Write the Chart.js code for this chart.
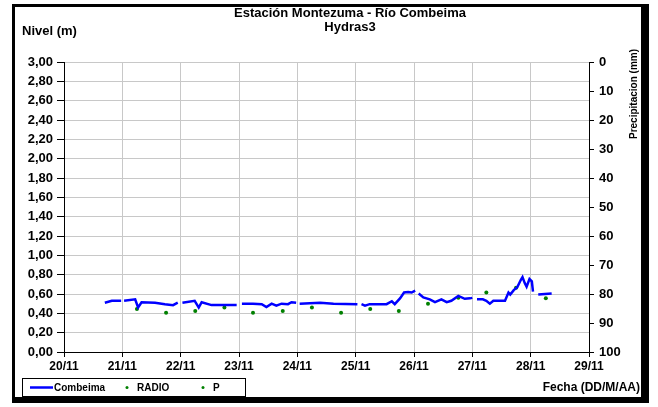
<!DOCTYPE html>
<html>
<head>
<meta charset="utf-8">
<script src="https://cdn.jsdelivr.net/npm/chart.js@4.4.1/dist/chart.umd.min.js"></script>
<style>
  html, body { margin: 0; padding: 0; background: #fff; }
  canvas { display: block; }
</style>
</head>
<body>
<canvas id="nivelChart" width="658" height="407"></canvas>
<script>
// Combeima: dias desde 20/11 (fraccion) y nivel (m); null = hueco en la serie
const combeimaDias = [
  20.70, 20.82, 20.98, 21.00,
  21.03, 21.22, 21.27, 21.33, 21.56, 21.73, 21.87, 21.95, 21.99,
  22.03, 22.24, 22.31, 22.36, 22.53, 22.72, 22.96, 23.00,
  23.05, 23.24, 23.39, 23.47, 23.56, 23.64, 23.73, 23.84, 23.90, 23.98, 24.01,
  24.04, 24.39, 24.62, 25.03, 25.06,
  25.10, 25.16, 25.24, 25.53, 25.62, 25.67, 25.76, 25.83, 25.90, 25.96, 26.02, 26.05,
  26.08, 26.16, 26.27, 26.36, 26.47, 26.56, 26.64, 26.76, 26.87, 26.96, 27.00, 27.04,
  27.08, 27.18, 27.24, 27.30, 27.36, 27.47, 27.56, 27.62, 27.65, 27.71, 27.77, 27.83,
  27.86, 27.90, 27.93, 27.98, 28.02, 28.04, 28.08,
  28.13, 28.36
];
const combeimaNivel = [
  0.51, 0.53, 0.53, null,
  0.53, 0.545, 0.46, 0.515, 0.51, 0.495, 0.485, 0.51, null,
  0.51, 0.53, 0.46, 0.515, 0.485, 0.485, 0.485, null,
  0.50, 0.50, 0.495, 0.465, 0.50, 0.48, 0.50, 0.495, 0.515, 0.51, null,
  0.50, 0.51, 0.50, 0.495, null,
  0.495, 0.48, 0.495, 0.495, 0.525, 0.495, 0.555, 0.615, 0.62, 0.615, 0.635, null,
  0.605, 0.565, 0.545, 0.515, 0.545, 0.515, 0.53, 0.58, 0.55, 0.555, 0.56, null,
  0.545, 0.545, 0.53, 0.50, 0.53, 0.53, 0.53, 0.615, 0.595, 0.64, 0.67, 0.745,
  0.775, 0.71, 0.675, 0.755, 0.73, 0.625, null,
  0.595, 0.605
];

// RADIO: lecturas puntuales (m)
const radioDias = [21.25, 21.75, 22.25, 22.75, 23.24, 23.75, 24.25, 24.75, 25.25, 25.74, 26.24, 26.76, 27.24, 27.75, 28.26];
const radioNivel = [0.445, 0.405, 0.425, 0.46, 0.405, 0.425, 0.46, 0.405, 0.445, 0.425, 0.50, 0.56, 0.615, 0.665, 0.555];

// P: precipitacion (mm), sin datos visibles
const pDias = [];
const pPrecip = [];

const fuente = 'Arial, "Liberation Sans", sans-serif';

function aPuntos(xs, ys) {
  return xs.map((x, i) => ({ x: x, y: ys[i] }));
}

// marco, textos y leyenda dibujados a mano
const marcoPlugin = {
  id: 'marco',
  beforeDraw(chart) {
    const ctx = chart.ctx;
    ctx.save();
    ctx.fillStyle = '#fff';
    ctx.fillRect(0, 0, chart.width, chart.height);
    ctx.fillStyle = '#000';
    ctx.fillRect(12, 4, 637, 399);
    ctx.fillStyle = '#fff';
    ctx.fillRect(15, 7, 626, 390);
    ctx.restore();
  },
  afterDraw(chart) {
    const ctx = chart.ctx;
    ctx.save();
    ctx.fillStyle = '#000';
    ctx.font = 'bold 13px ' + fuente;
    ctx.textAlign = 'center';
    ctx.textBaseline = 'middle';
    ctx.fillText('Estación Montezuma - Río Combeima', 350, 13);
    ctx.fillText('Hydras3', 350, 27);

    ctx.textAlign = 'left';
    ctx.fillText('Nivel (m)', 22, 31);

    ctx.font = 'bold 12px ' + fuente;
    ctx.textAlign = 'right';
    ctx.fillText('Fecha (DD/M/AA)', 640, 388);

    ctx.save();
    ctx.translate(634, 94);
    ctx.rotate(-Math.PI / 2);
    ctx.textAlign = 'center';
    ctx.font = 'bold 10px ' + fuente;
    ctx.fillText('Precipitacion (mm)', 0, 0);
    ctx.restore();

    // leyenda
    ctx.strokeStyle = '#000';
    ctx.lineWidth = 1;
    ctx.strokeRect(22.5, 378.5, 223, 18);
    const ds = chart.data.datasets;
    ctx.font = 'bold 10px ' + fuente;
    ctx.textAlign = 'left';
    ctx.strokeStyle = ds[0].borderColor;
    ctx.lineWidth = 2.5;
    ctx.beginPath();
    ctx.moveTo(30, 387.5);
    ctx.lineTo(53, 387.5);
    ctx.stroke();
    ctx.fillText(ds[0].label, 54, 388);
    ctx.fillStyle = ds[1].backgroundColor;
    ctx.beginPath();
    ctx.arc(127, 387.5, 1.5, 0, Math.PI * 2);
    ctx.fill();
    ctx.fillStyle = '#000';
    ctx.fillText(ds[1].label, 137, 388);
    ctx.fillStyle = ds[2].backgroundColor;
    ctx.beginPath();
    ctx.arc(203, 387.5, 1.5, 0, Math.PI * 2);
    ctx.fill();
    ctx.fillStyle = '#000';
    ctx.fillText(ds[2].label, 213, 388);
    ctx.restore();
  }
};

const ctxNivel = document.getElementById('nivelChart').getContext('2d');
const nivelChart = new Chart(ctxNivel, {
  type: 'line',
  data: {
    datasets: [
      {
        label: 'Combeima',
        data: aPuntos(combeimaDias, combeimaNivel),
        borderColor: '#0000ff',
        borderWidth: 2.5,
        pointRadius: 0,
        tension: 0,
        spanGaps: false,
        yAxisID: 'y'
      },
      {
        label: 'RADIO',
        data: aPuntos(radioDias, radioNivel),
        showLine: false,
        pointRadius: 2,
        pointBorderWidth: 0,
        backgroundColor: '#008000',
        borderColor: '#008000',
        yAxisID: 'y'
      },
      {
        label: 'P',
        data: aPuntos(pDias, pPrecip),
        showLine: false,
        pointRadius: 2,
        pointBorderWidth: 0,
        backgroundColor: '#008000',
        borderColor: '#008000',
        yAxisID: 'y2'
      }
    ]
  },
  options: {
    responsive: false,
    animation: false,
    devicePixelRatio: 1,
    layout: {
      padding: { top: 62, left: 0, right: 0, bottom: 0 }
    },
    plugins: {
      legend: { display: false },
      title: { display: false },
      tooltip: { enabled: false }
    },
    scales: {
      x: {
        type: 'linear',
        min: 20,
        max: 29,
        afterFit: function(scale) { scale.height = 55; },
        ticks: {
          stepSize: 1,
          color: '#000',
          padding: 2,
          maxRotation: 0,
          font: { family: fuente, size: 12, weight: 'bold' },
          callback: function(v) { return v + '/11'; }
        },
        grid: {
          color: '#c8c8c8',
          tickColor: '#000',
          tickLength: 5
        },
        border: { color: '#000', width: 1 }
      },
      y: {
        position: 'left',
        min: 0,
        max: 3,
        afterFit: function(scale) { scale.width = 64; },
        ticks: {
          stepSize: 0.2,
          color: '#000',
          padding: 4,
          font: { family: fuente, size: 13, weight: 'bold' },
          callback: function(v) { return Number(v).toFixed(2).replace('.', ','); }
        },
        grid: {
          color: '#c8c8c8',
          tickColor: '#000',
          tickLength: 7
        },
        border: { color: '#000', width: 1 }
      },
      y2: {
        position: 'right',
        min: 0,
        max: 100,
        reverse: true,
        afterFit: function(scale) { scale.width = 69; },
        ticks: {
          stepSize: 10,
          color: '#000',
          padding: 5,
          font: { family: fuente, size: 13, weight: 'bold' }
        },
        grid: {
          drawOnChartArea: false,
          color: '#000',
          tickLength: 5
        },
        border: { color: '#000', width: 1 }
      }
    }
  },
  plugins: [marcoPlugin]
});
</script>
</body>
</html>
